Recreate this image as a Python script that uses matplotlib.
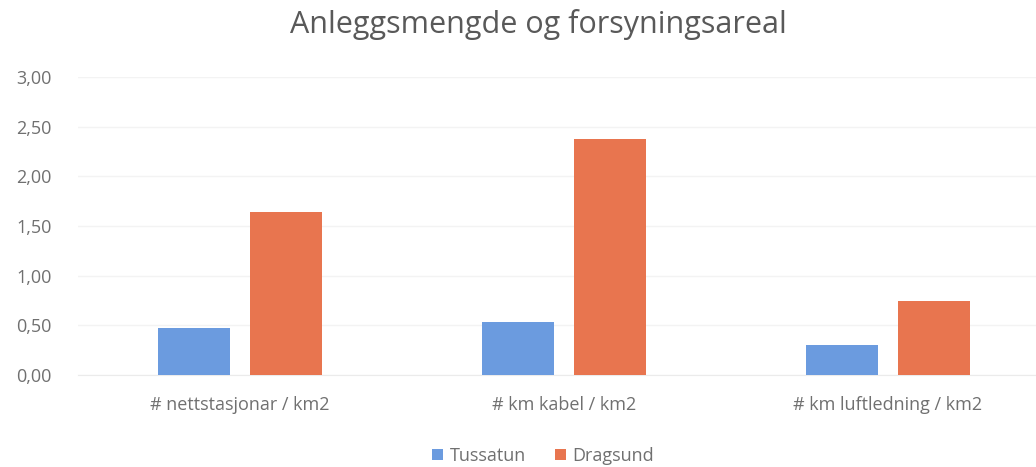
import numpy as np
import matplotlib.pyplot as plt
from matplotlib.ticker import FuncFormatter

plt.rcParams['font.family'] = ['Open Sans', 'DejaVu Sans']

categories = ['# nettstasjonar / km2', '# km kabel / km2', '# km luftledning / km2']
tussatun = [0.47, 0.53, 0.30]
dragsund = [1.64, 2.38, 0.75]
series_names = ['Tussatun', 'Dragsund']
colors = ['#6B9BDF', '#E8754F']

W, H = 1036, 467
fig = plt.figure(figsize=(W / 100, H / 100), dpi=100)
# plot area runs a little past the right edge
ax = fig.add_axes([78 / W, 1 - 375 / H, 972 / W, 298 / H])

x = np.arange(len(categories))
w = 0.222
off = 0.142
ax.bar(x - off, tussatun, width=w, color=colors[0], label=series_names[0], zorder=3)
ax.bar(x + off, dragsund, width=w, color=colors[1], label=series_names[1], zorder=3)

ax.set_xlim(-0.5, len(categories) - 0.5)
ax.set_ylim(0, 3.0)
ax.set_yticks(np.arange(0, 3.01, 0.5))
ax.yaxis.set_major_formatter(FuncFormatter(lambda v, p: f'{v:.2f}'.replace('.', ',')))
ax.set_xticks(x)
ax.set_xticklabels(categories)

ax.grid(axis='y', color='#f3f3f3', linewidth=1, zorder=0)
for s in ['top', 'right', 'left']:
    ax.spines[s].set_visible(False)
ax.spines['bottom'].set_color('#ebebeb')
ax.tick_params(axis='both', length=0, colors='#707070', labelsize=13)
ax.tick_params(axis='y', pad=19)
ax.tick_params(axis='x', pad=15)

fig.text(538 / W, 1 - 25 / H, 'Anleggsmengde og forsyningsareal', ha='center', va='center',
         fontsize=22, color='#595959')

fig.legend(loc='center', bbox_to_anchor=(543 / W, 1 - 456 / H), ncol=2, frameon=False,
           fontsize=13, handlelength=0.6, handleheight=0.6, handletextpad=0.35,
           columnspacing=1.6, labelcolor='#707070', borderpad=0)

fig.savefig('out.png', dpi=100)
